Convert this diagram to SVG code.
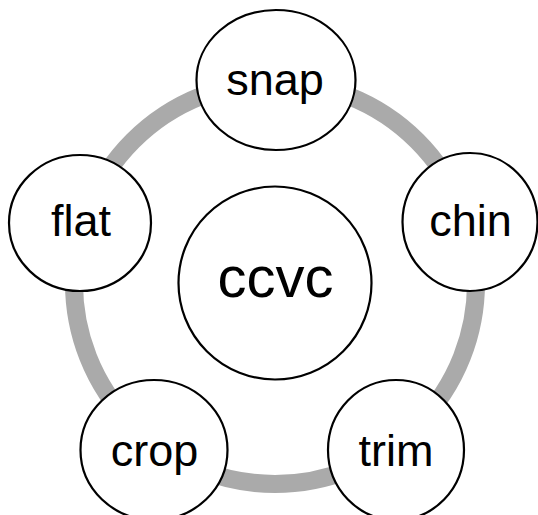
<svg xmlns="http://www.w3.org/2000/svg" width="538" height="515" viewBox="0 0 538 515">
<style>
.node{fill:#ffffff;stroke:#000000;stroke-width:2.2}
.lbl{font-family:"Liberation Sans",Arial,sans-serif;font-size:45px;fill:#000000;text-anchor:middle}
.big{font-size:58px}
.ring{fill:none;stroke:#aaaaaa;stroke-width:18}
</style>
<rect width="538" height="515" fill="#ffffff"/>
<g id="connectors">
<circle class="ring" cx="275" cy="283" r="201"/>
</g>
<g id="node-ccvc">
<circle class="node" cx="275" cy="283" r="96.5"/>
<text class="lbl big" x="275.5" y="297">ccvc</text>
</g>
<g id="node-snap">
<ellipse class="node" cx="276" cy="80" rx="79.5" ry="70"/>
<text class="lbl" x="275" y="94.5">snap</text>
</g>
<g id="node-chin">
<ellipse class="node" cx="470" cy="222" rx="67.5" ry="69"/>
<text class="lbl" x="470.5" y="235.5">chin</text>
</g>
<g id="node-trim">
<ellipse class="node" cx="396" cy="450" rx="68" ry="70"/>
<text class="lbl" x="396" y="466">trim</text>
</g>
<g id="node-crop">
<ellipse class="node" cx="154" cy="450" rx="73.5" ry="70"/>
<text class="lbl" x="154.5" y="466">crop</text>
</g>
<g id="node-flat">
<ellipse class="node" cx="80" cy="223" rx="71" ry="68"/>
<text class="lbl" x="81" y="235.5">flat</text>
</g>
</svg>
